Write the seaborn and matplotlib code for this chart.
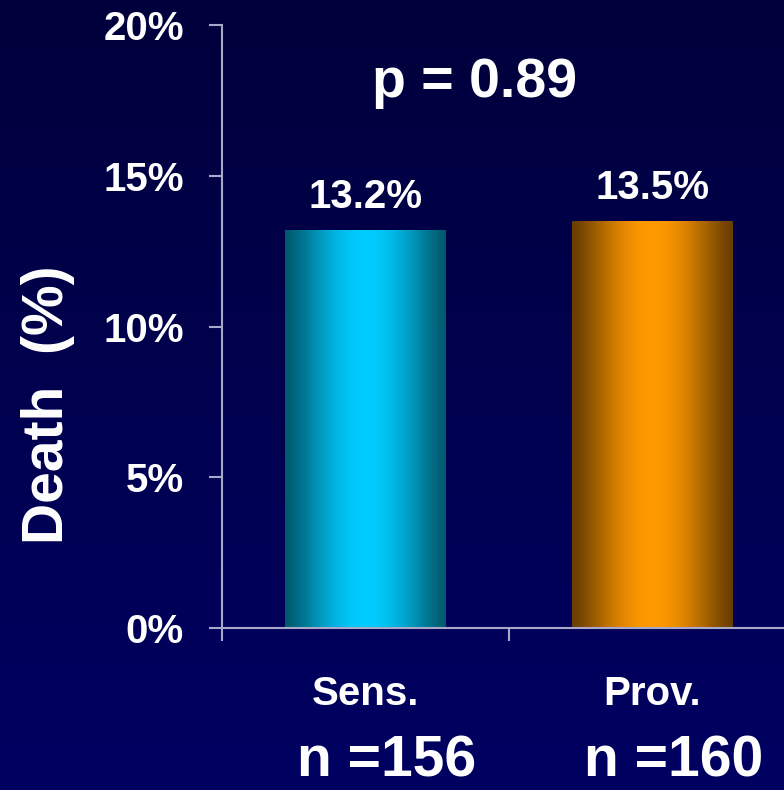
import matplotlib
matplotlib.use("Agg")
import matplotlib.pyplot as plt
import matplotlib.colors as mcolors
import matplotlib.transforms as mtransforms
from matplotlib.ticker import PercentFormatter
import numpy as np
import pandas as pd
import seaborn as sns

# data
groups = ["Sens.", "Prov."]
death_pct = [13.2, 13.5]
n_labels = ["n =156", "n =160"]
p_text = "p = 0.89"
y_ticks = [0, 5, 10, 15, 20]

bright = ["#00ccff", "#ff9900"]
dark = ["#005a6e", "#6a3e00"]
axis_col = "#a8a8c8"

sns.set_theme(style="white")
plt.rcParams["font.family"] = ["Liberation Sans", "DejaVu Sans"]
plt.rcParams["font.weight"] = "bold"

fig = plt.figure(figsize=(7.84, 7.90), dpi=100)

# navy background gradient, darker at the top
bg = fig.add_axes([0, 0, 1, 1], zorder=-10)
grad = np.linspace(0, 1, 256).reshape(-1, 1)
top = np.array([0, 0, 0x3c]) / 255
bot = np.array([0, 0, 0x62]) / 255
bg.imshow(top + (bot - top) * grad[..., None], aspect="auto",
          extent=[0, 1, 0, 1], origin="upper")
bg.axis("off")

ax = fig.add_axes([222 / 784, 162 / 790, 574 / 784, 603 / 790])
ax.set_facecolor("none")

df = pd.DataFrame({"group": groups, "death": death_pct})
sns.barplot(data=df, x="group", y="death", hue="group", palette=bright,
            width=0.56, saturation=1, legend=False, linewidth=0, ax=ax)

# cylinder-like shading on each bar
xs = np.linspace(0, 1, 200)
shade = np.sin(np.pi * xs) ** 1.3
for patch, cb, cd in zip(ax.patches, bright, dark):
    patch.set_edgecolor("none")
    cb = np.array(mcolors.to_rgb(cb))
    cd = np.array(mcolors.to_rgb(cd))
    row = cd + (cb - cd) * shade[:, None]
    x0, y0 = patch.get_x(), patch.get_y()
    w, h = patch.get_width(), patch.get_height()
    im = ax.imshow(row[None, :, :], extent=[x0, x0 + w, y0, y0 + h],
                   aspect="auto", zorder=patch.get_zorder() + 0.1)
    im.set_clip_path(patch)

ax.set_xlim(-0.5, 1.5)
ax.set_ylim(0, 20)

for i, v in enumerate(death_pct):
    ax.annotate(f"{v}%", xy=(i, v), xytext=(0, 16), textcoords="offset points",
                ha="center", va="baseline", fontsize=29, color="white")

ax.text(0.44, 0.881, p_text, transform=ax.transAxes, ha="center",
        va="baseline", fontsize=40, color="white")

blend = mtransforms.blended_transform_factory(ax.transData, ax.transAxes)
n_trans = mtransforms.offset_copy(blend, fig=fig, x=15, y=0, units="points")
for i, lab in enumerate(n_labels):
    ax.text(i, -0.247, lab, transform=n_trans, ha="center", va="baseline",
            fontsize=41, color="white", clip_on=False)

# y axis
ax.set_yticks(y_ticks)
ax.yaxis.set_major_formatter(PercentFormatter(decimals=0))
ax.tick_params(axis="y", length=9.4, width=1.5, color=axis_col, pad=18,
               labelsize=29, labelcolor="white", left=True)

# x axis: ticks at category borders, labels at the centres
ax.set_xticks([-0.5, 0.5, 1.5])
ax.set_xticklabels([])
ax.set_xticks([0, 1], minor=True)
ax.set_xticklabels(groups, minor=True)
ax.tick_params(axis="x", which="major", length=9, width=1.5, color=axis_col,
               bottom=True)
ax.tick_params(axis="x", which="minor", length=0, pad=34, labelsize=29,
               labelcolor="white")
ax.set_xlabel("")
ax.set_ylabel("")

for s in ["top", "right"]:
    ax.spines[s].set_visible(False)
for s in ["left", "bottom"]:
    ax.spines[s].set_color(axis_col)
    ax.spines[s].set_linewidth(1.5)

fig.text(48 / 784, 1 - 405 / 790, "Death  (%)", rotation=90, ha="center",
         va="center", fontsize=41, color="white")

fig.savefig("out.png", dpi=100)
